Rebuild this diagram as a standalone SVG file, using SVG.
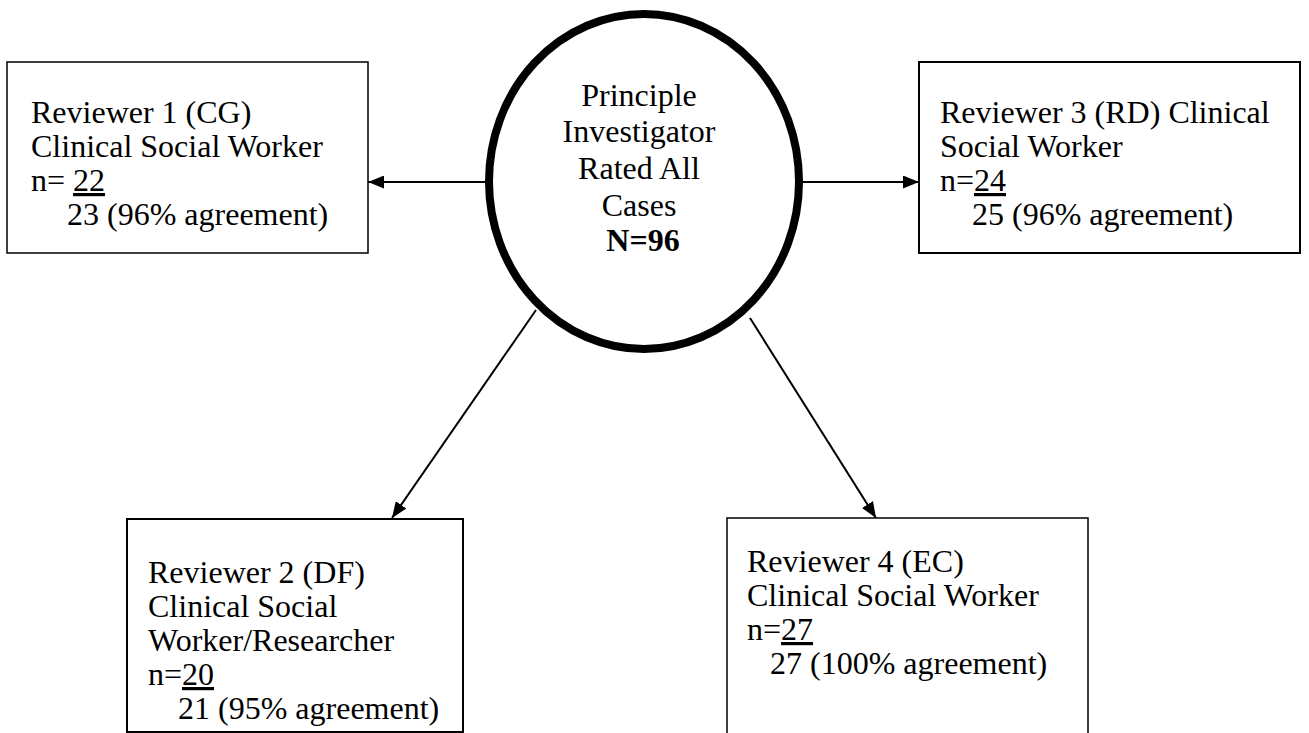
<svg xmlns="http://www.w3.org/2000/svg" width="1309" height="733" viewBox="0 0 1309 733">
<defs>
<style>
.t{font-family:"Liberation Serif","Times New Roman",serif;font-size:32px;fill:#000}
.b{font-weight:bold}
.box{fill:#fff;stroke:#000}
.c{stroke:#000;stroke-width:2;fill:none}
</style>
<marker id="ah" viewBox="0 0 16 13" refX="16" refY="6.5" markerWidth="16" markerHeight="13" markerUnits="userSpaceOnUse" orient="auto">
<path d="M0,0 L16,6.5 L0,13 z" fill="#000"/>
</marker>
</defs>
<rect width="1309" height="733" fill="#fff"/>
<g id="connectors">
<line class="c" x1="486" y1="182" x2="368" y2="182" marker-end="url(#ah)"/>
<line class="c" x1="802" y1="182" x2="919" y2="182" marker-end="url(#ah)"/>
<line class="c" x1="536" y1="310" x2="392" y2="518" marker-end="url(#ah)"/>
<line class="c" x1="750" y1="318" x2="876" y2="518" marker-end="url(#ah)"/>
</g>
<g id="pi">
<ellipse cx="644" cy="181.5" rx="155" ry="167.5" fill="#fff" stroke="#000" stroke-width="8"/>
<text class="t" text-anchor="middle">
<tspan x="643" y="106">Principle</tspan>
<tspan x="643" y="142">Investigator</tspan>
<tspan x="643" y="179">Rated All</tspan>
<tspan x="643" y="216">Cases</tspan>
<tspan x="643" y="251" class="b">N=96</tspan>
</text>
</g>
<g id="reviewer1">
<rect class="box" x="7" y="62" width="361" height="191" stroke-width="1.5"/>
<text class="t">
<tspan x="31" y="123">Reviewer 1 (CG)</tspan>
<tspan x="31" y="157">Clinical Social Worker</tspan>
<tspan x="31" y="191">n= <tspan text-decoration="underline">22</tspan></tspan>
<tspan x="67" y="225">23 (96% agreement)</tspan>
</text>
</g>
<g id="reviewer3">
<rect class="box" x="919" y="62" width="381" height="191" stroke-width="2"/>
<text class="t">
<tspan x="940" y="123">Reviewer 3 (RD) Clinical</tspan>
<tspan x="940" y="157">Social Worker</tspan>
<tspan x="940" y="191">n=<tspan text-decoration="underline">24</tspan></tspan>
<tspan x="972" y="225">25 (96% agreement)</tspan>
</text>
</g>
<g id="reviewer2">
<rect class="box" x="127" y="519" width="336" height="213" stroke-width="2"/>
<text class="t">
<tspan x="148" y="583">Reviewer 2 (DF)</tspan>
<tspan x="148" y="617">Clinical Social</tspan>
<tspan x="148" y="651">Worker/Researcher</tspan>
<tspan x="148" y="685">n=<tspan text-decoration="underline">20</tspan></tspan>
<tspan x="178" y="719">21 (95% agreement)</tspan>
</text>
</g>
<g id="reviewer4">
<rect class="box" x="727" y="518" width="361" height="230" stroke-width="1.5"/>
<text class="t">
<tspan x="747" y="572">Reviewer 4 (EC)</tspan>
<tspan x="747" y="606">Clinical Social Worker</tspan>
<tspan x="747" y="640">n=<tspan text-decoration="underline">27</tspan></tspan>
<tspan x="770" y="674">27 (100% agreement)</tspan>
</text>
</g>
</svg>
